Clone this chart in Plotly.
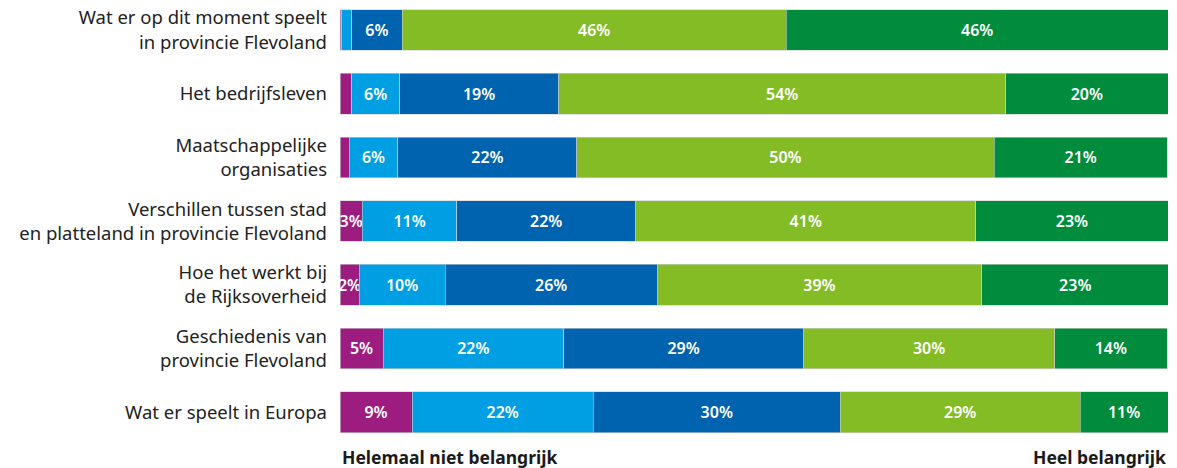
import plotly.graph_objects as go

categories = [
    "Wat er op dit moment speelt<br>in provincie Flevoland",
    "Het bedrijfsleven",
    "Maatschappelijke<br>organisaties",
    "Verschillen tussen stad<br>en platteland in provincie Flevoland",
    "Hoe het werkt bij<br>de Rijksoverheid",
    "Geschiedenis van<br>provincie Flevoland",
    "Wat er speelt in Europa",
]

series_names = ["Helemaal niet belangrijk", "Niet belangrijk", "Neutraal", "Belangrijk", "Heel belangrijk"]
v1 = [0.2, 1.4, 1.1, 2.7, 2.3, 5.2, 8.7]
v2 = [1.2, 5.8, 5.9, 11.4, 10.4, 21.8, 21.9]
v3 = [6.1, 19.2, 21.6, 21.6, 25.6, 29.0, 29.8]
v4 = [46.4, 54.0, 50.4, 41.1, 39.2, 30.3, 29.0]
v5 = [46.1, 19.6, 20.9, 23.2, 22.6, 13.6, 10.6]
colors = ["#9C1C80", "#009FE3", "#0063AF", "#84BC26", "#008C3C"]

fig = go.Figure()
for name, vals, col in zip(series_names, [v1, v2, v3, v4, v5], colors):
    labels = [f"{int(v + 0.5)}%" if v >= 2 else "" for v in vals]
    fig.add_trace(go.Bar(
        y=categories, x=vals, name=name, orientation="h",
        marker=dict(color=col, line=dict(color="#CFCFCF", width=0.6)),
        text=labels, textposition="inside", insidetextanchor="middle",
        textfont=dict(color="white", size=16, family="Noto Sans", weight=600),
        textangle=0, constraintext="none",
    ))

fig.update_layout(
    barmode="stack",
    bargap=0.36,
    width=1177, height=468,
    margin=dict(l=340, r=9, t=2, b=28, autoexpand=False),
    plot_bgcolor="white", paper_bgcolor="white",
    showlegend=False,
    font=dict(family="Noto Sans", size=18.5, color="#222222"),
    xaxis=dict(range=[0, 100], visible=False, automargin=False),
    yaxis=dict(type="category", range=[6.437, -0.44], showgrid=False, zeroline=False,
               showline=False, ticks="", ticklabelstandoff=12, automargin=False,
               tickfont=dict(family="Noto Sans", size=18.5, color="#222222")),
    annotations=[
        dict(text="<b>Helemaal niet belangrijk</b>", x=0, y=-0.039, xref="paper", yref="paper",
             xanchor="left", yanchor="middle", showarrow=False,
             font=dict(family="Noto Sans", size=17.5, color="#1a1a1a")),
        dict(text="<b>Heel belangrijk</b>", x=1, y=-0.039, xref="paper", yref="paper",
             xanchor="right", yanchor="middle", showarrow=False,
             font=dict(family="Noto Sans", size=17.5, color="#1a1a1a")),
    ],
)

fig.write_html("out.html", config={"displayModeBar": False},
               post_script="document.body.style.margin='0px';document.body.style.padding='0px';")
